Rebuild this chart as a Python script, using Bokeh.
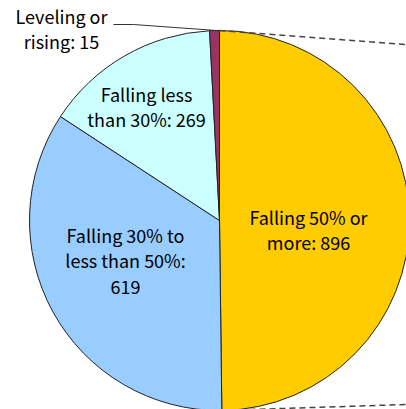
import numpy as np
from bokeh.plotting import figure
from bokeh.models import Range1d, ColumnDataSource
from bokeh.core.properties import value
from bokeh.embed import file_html
from bokeh.resources import INLINE

# Share breakdown, drawn clockwise from 12 o'clock
categories = ["Falling 50% or\nmore", "Falling 30% to\nless than 50%", "Falling less\nthan 30%", "Leveling or\nrising"]
counts = [896, 619, 269, 15]
colors = ["#FFCC00", "#99CCFF", "#CCFFFF", "#993366"]

W, H = 406, 409
cx, cy, r = 219, H - 220, 190

p = figure(width=W, height=H, output_backend="svg", toolbar_location=None,
           x_range=Range1d(0, W), y_range=Range1d(0, H), min_border=0)
p.axis.visible = False
p.grid.visible = False
p.outline_line_color = None
p.background_fill_color = "white"

vals = np.array(counts, dtype=float)
frac = vals / vals.sum()
cum_end = np.cumsum(frac)
cum_start = cum_end - frac
start = np.pi / 2 - cum_end * 2 * np.pi
end = np.pi / 2 - cum_start * 2 * np.pi

src = ColumnDataSource(dict(start=start, end=end, color=colors))
p.wedge(x=cx, y=cy, radius=r, start_angle="start", end_angle="end",
        fill_color="color", line_color="#222222", line_width=1, source=src)

# connector lines toward the secondary chart (off to the right)
p.line([cx, W], [H - 30, H - 44], line_color="#444444", line_width=1.5, line_dash="6 4")
p.line([cx, W], [H - 410, H - 404], line_color="#444444", line_width=1.5, line_dash="6 4")

# leader line for the thin slice
p.line([113, 133, 216], [H - 24, H - 24, H - 30], line_color="#333333", line_width=1)

labels = [f"{c}: {v}" for c, v in zip(categories, counts)]
labels[1] = "Falling 30% to\nless than 50%:\n" + str(counts[1])
lx = [308, 125, 146, 61]
ly = [H - 229, H - 260, H - 106, H - 28]
p.text(x=lx, y=ly, text=labels, text_align="center", text_baseline="middle",
       text_font=value("Noto Sans CJK JP"), text_font_size="18px",
       text_line_height=0.98, text_color="#000000")

open("out.html", "w").write(file_html(p, INLINE))
